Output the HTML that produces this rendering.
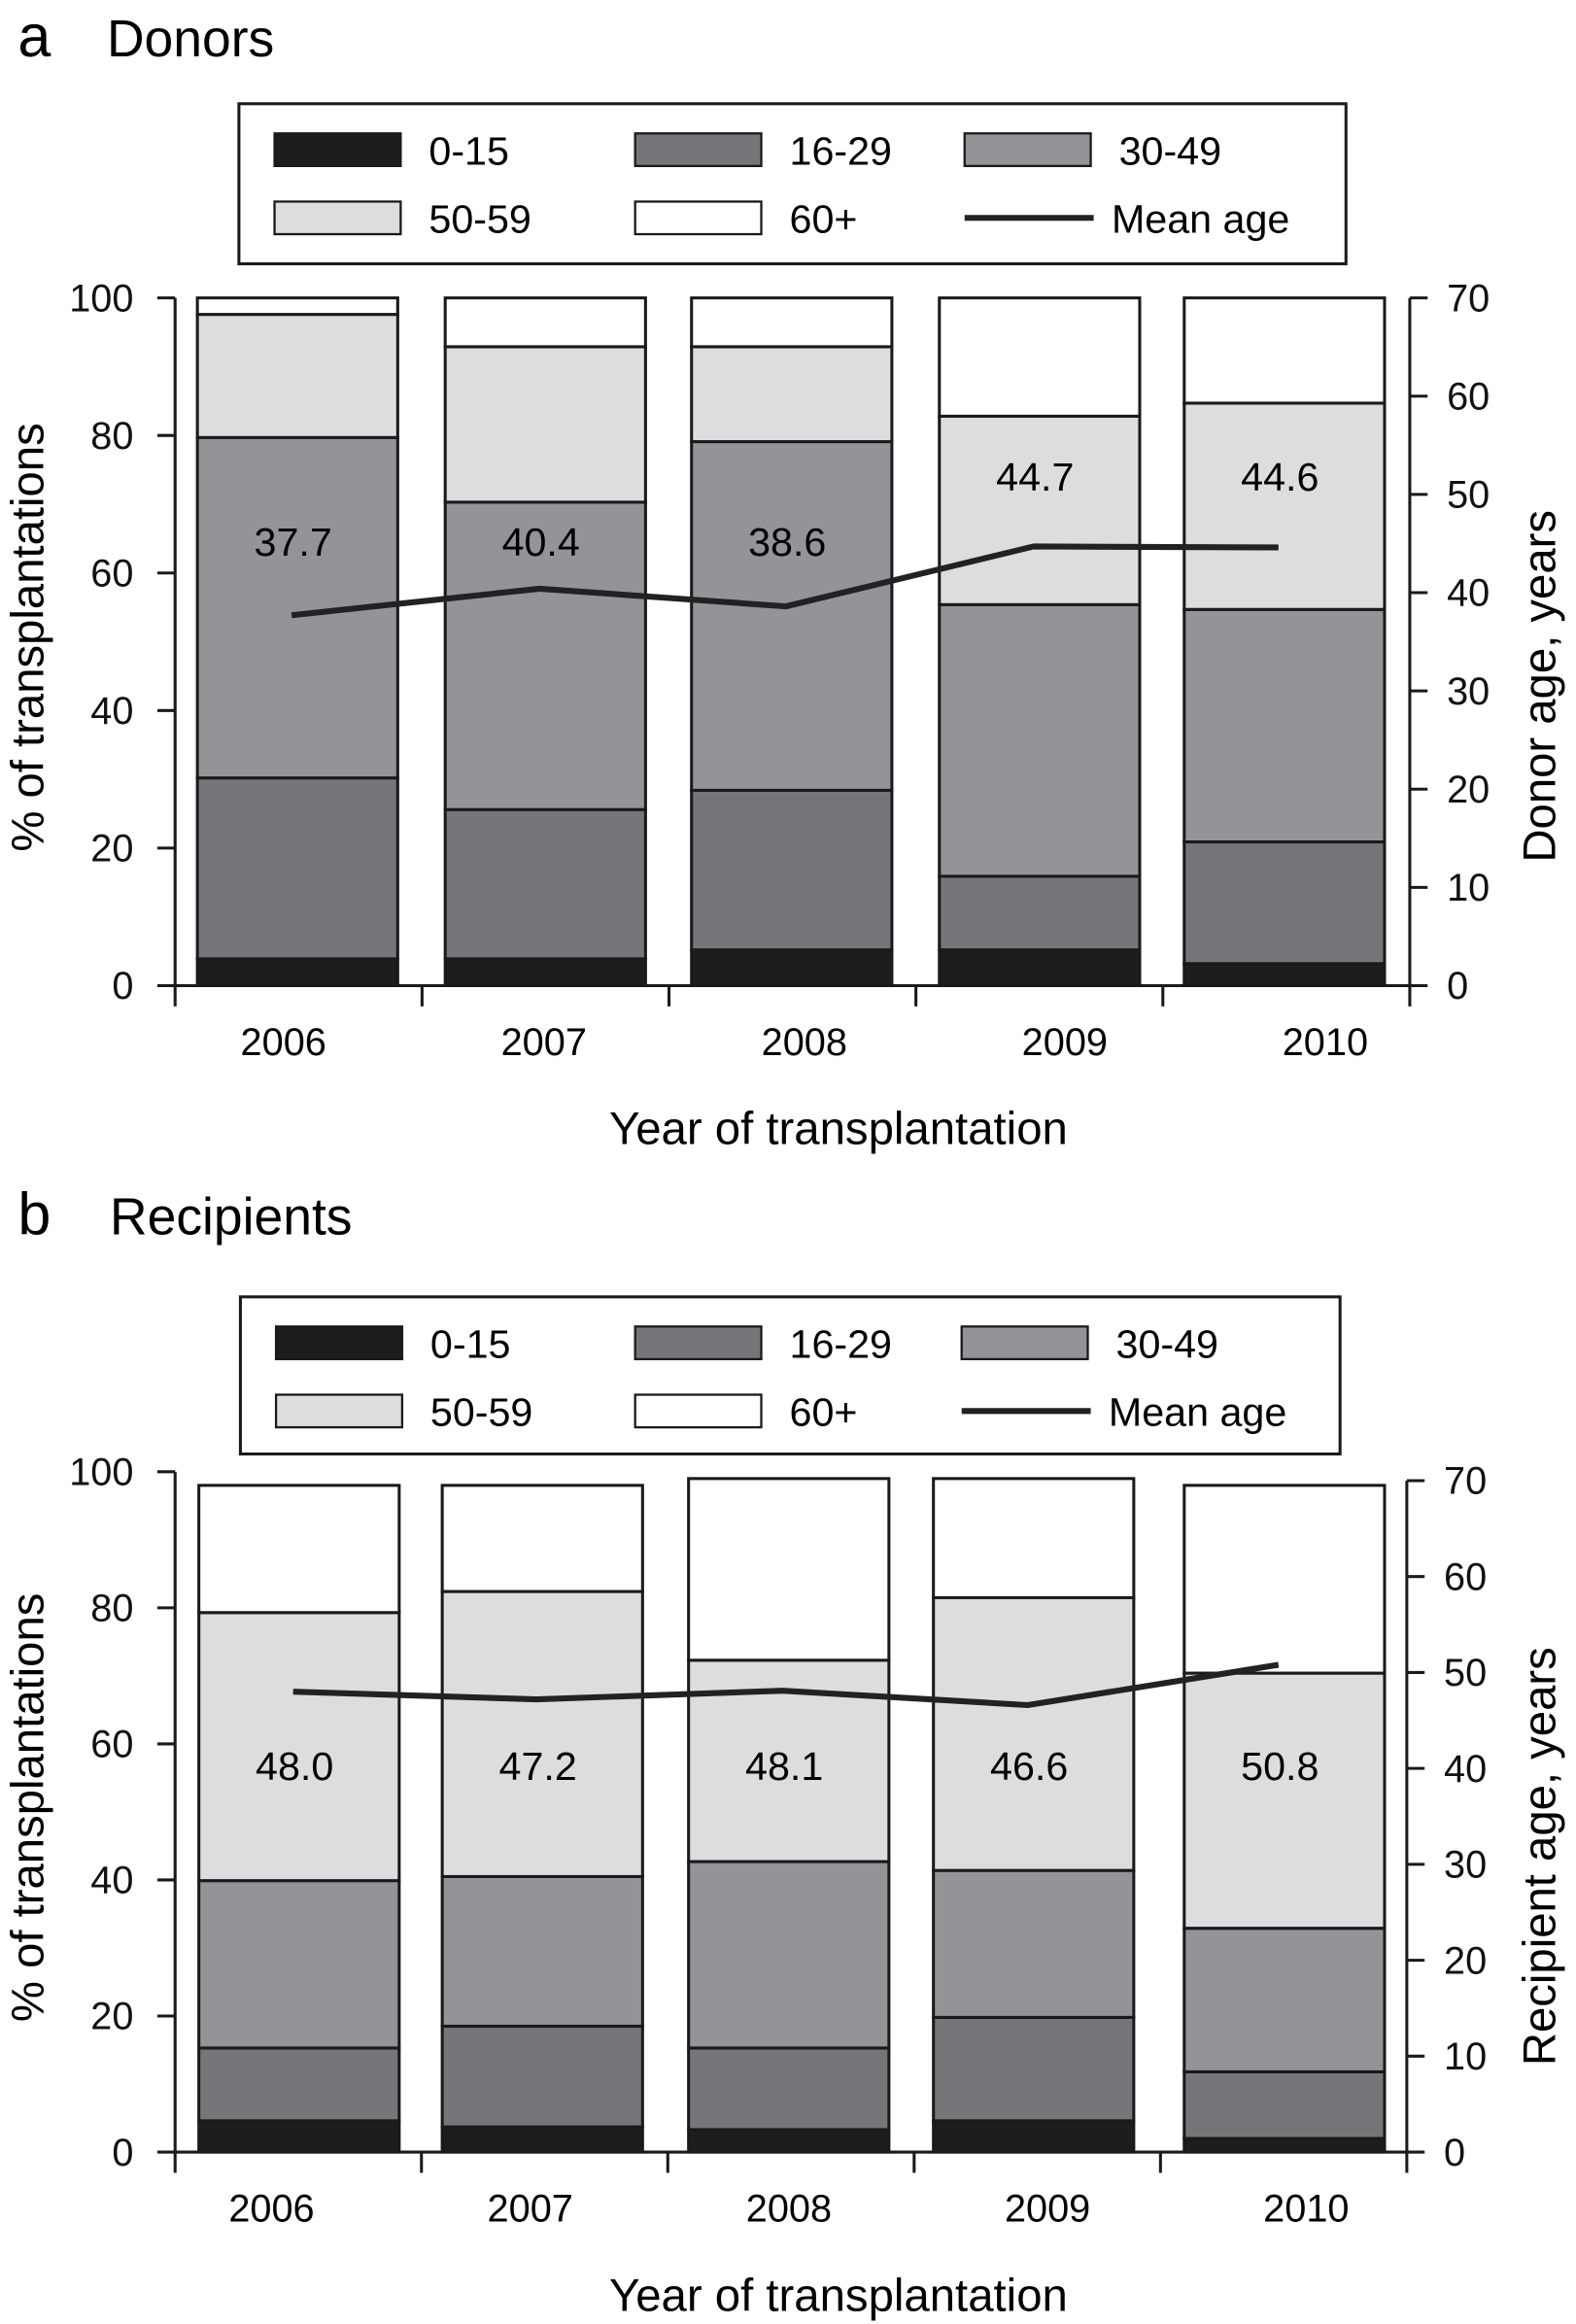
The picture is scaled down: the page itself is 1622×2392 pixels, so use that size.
<!DOCTYPE html>
<html><head><meta charset="utf-8"><style>
html,body{margin:0;padding:0;background:#fff;}
svg{display:block;font-family:"Liberation Sans",sans-serif;}
</style></head><body>
<svg id="fig" width="1622" height="2392" viewBox="0 0 1062 1568" preserveAspectRatio="none" xmlns="http://www.w3.org/2000/svg"></svg>
<script>
const years = ["2006","2007","2008","2009","2010"];
const groups = ["0-15","16-29","30-49","50-59","60+"];
const colors = ["#1f1c1d","#75767a","#939498","#dcdddf","#ffffff"];
// cumulative top boundaries (%) per age group, per year
const donorCum = [
  [3.9, 30.2, 79.7, 97.6, 100],
  [3.9, 25.6, 70.3, 92.9, 100],
  [5.2, 28.4, 79.1, 92.9, 100],
  [5.2, 15.9, 55.4, 82.8, 100],
  [3.2, 20.9, 54.7, 84.7, 100]
];
const donorMean = [37.7, 40.4, 38.6, 44.7, 44.6];
const recipCum = [
  [4.6, 15.3, 39.9, 79.3, 98],
  [3.7, 18.5, 40.5, 82.4, 98],
  [3.3, 15.3, 42.7, 72.3, 99],
  [4.6, 19.8, 41.4, 81.5, 99],
  [2.0, 11.8, 32.9, 70.4, 98]
];
const recipMean = [48.0, 47.2, 48.1, 46.6, 50.8];
const leftTicks = [0,20,40,60,80,100];
const rightTicks = [0,10,20,30,40,50,60,70];

const NS = "http://www.w3.org/2000/svg";
const svg = document.getElementById("fig");
function mk(tag, attrs, parent, text){
  const e = document.createElementNS(NS, tag);
  for (const k in attrs) e.setAttribute(k, attrs[k]);
  if (text !== undefined) e.textContent = text;
  (parent||svg).appendChild(e);
  return e;
}

function chart(cfg){
  const g = mk("g", {});
  
  
  const yL = v => cfg.y0 - (v/100)*(cfg.y0 - cfg.y100);
  const yR = v => cfg.yr0 - (v/70)*(cfg.yr0 - cfg.yr70);
  const bx = i => cfg.barX[i];
  const bw = cfg.barW;
  const cx = i => cfg.barX[i] + bw/2;

  const t1 = mk("text", {x:12, y:cfg.titleY, "font-size":40}, g, cfg.letter);
  
  
  const t2 = mk("text", {x:cfg.titleX, y:cfg.titleY, "font-size":35}, g, cfg.title);
  
  

  const L = cfg.leg;
  const lg = mk("g", {}, g);
  
  
  mk("rect", {x:L.x, y:L.y, width:L.w, height:L.h, fill:"#fff", stroke:"#1a1a1a", "stroke-width":2}, lg);
  const cols = [L.x+24, L.x+24+L.dx1, L.x+24+L.dx2];
  const rows = [L.y+20, L.y+66];
  for (let k=0;k<6;k++){
    const c = cols[k%3], r = rows[Math.floor(k/3)];
    const ent = mk("g", {}, lg);
    
    
    if (k<5){
      mk("rect", {x:c, y:r, width:85, height:22, fill:colors[k], stroke:"#1a1a1a", "stroke-width":1.5}, ent);
      mk("text", {x:c+104, y:r+21, "font-size":27}, ent, groups[k]);
    } else {
      mk("line", {x1:c, x2:c+87, y1:r+11, y2:r+11, stroke:"#222", "stroke-width":4}, ent);
      mk("text", {x:c+99, y:r+21, "font-size":27}, ent, "Mean age");
    }
  }

  for (let i=0;i<years.length;i++){
    const bg = mk("g", {}, g);
    
    
    let prev = 0;
    for (let k=0;k<5;k++){
      const top = cfg.cum[i][k];
      const seg = mk("rect", {x:bx(i), y:yL(top), width:bw, height:Math.max(0,yL(prev)-yL(top)), fill:colors[k], stroke:"#1a1a1a", "stroke-width":2}, bg);
      
      
      prev = top;
    }
  }

  const pts = cfg.mean.map((v,i)=>(cx(i)-4)+","+yR(v)).join(" ");
  const pl = mk("polyline", {points:pts, fill:"none", stroke:"#222", "stroke-width":4, "stroke-linejoin":"round"}, g);
  
  
  for (let i=0;i<years.length;i++){
    const lab = mk("text", {x:cx(i)-3, y:cfg.labY[i], "font-size":27, "text-anchor":"middle"}, g, cfg.mean[i].toFixed(1));
    
    
  }

  const ax = mk("g", {stroke:"#1a1a1a", "stroke-width":2}, g);
  
  
  mk("line", {x1:cfg.axL, x2:cfg.axL, y1:cfg.y100, y2:cfg.y0}, ax);
  mk("line", {x1:cfg.axR, x2:cfg.axR, y1:cfg.yr70, y2:cfg.y0}, ax);
  mk("line", {x1:cfg.axL, x2:cfg.axR, y1:cfg.y0, y2:cfg.y0}, ax);
  for (const v of leftTicks){
    mk("line", {x1:cfg.axL-12, x2:cfg.axL, y1:yL(v), y2:yL(v)}, ax);
    const t = mk("text", {x:cfg.axL-28, y:yL(v)+9, "font-size":26, "text-anchor":"end", stroke:"none", fill:"#111"}, g, v);
    
    
  }
  for (const v of rightTicks){
    mk("line", {x1:cfg.axR, x2:cfg.axR+12, y1:yR(v), y2:yR(v)}, ax);
    const t = mk("text", {x:cfg.axR+25, y:yR(v)+9, "font-size":26, stroke:"none", fill:"#111"}, g, v);
    
    
  }
  for (let j=0;j<=years.length;j++){
    const x = cfg.axL + j*(cfg.axR-cfg.axL)/years.length;
    mk("line", {x1:x, x2:x, y1:cfg.y0, y2:cfg.y0+14}, ax);
  }
  for (let i=0;i<years.length;i++){
    const x = cfg.labX0 + i*cfg.labDx;
    const t = mk("text", {x:x, y:cfg.y0+47, "font-size":26, "text-anchor":"middle"}, g, years[i]);
    
    
  }
  const xt = mk("text", {x:565, y:cfg.y0+107, "font-size":31, "text-anchor":"middle"}, g, "Year of transplantation");
  
  
  const mid = (cfg.y0+cfg.y100)/2;
  const yt = mk("text", {x:0, y:0, "font-size":31, "text-anchor":"middle", transform:"translate(29,"+(mid-3)+") rotate(-90)"}, g, "% of transplantations");
  
  
  const y2 = mk("text", {x:0, y:0, "font-size":31, "text-anchor":"middle", transform:"translate(1048,"+(mid+30)+") rotate(-90)"}, g, cfg.rightTitle);
  
  
}

chart({name:"donors-chart", letter:"a", title:"Donors", titleX:72, titleY:38, rightTitle:"Donor age, years",
  leg:{x:161,y:70,w:746,h:108,dx1:243,dx2:465},
  cum:donorCum, mean:donorMean, labY:[375,375,375,331,331],
  y0:665, y100:201, yr0:665, yr70:201, axL:118, axR:950,
  barX:[133,300,466,633,798], barW:135, labX0:191, labDx:175.5});
chart({name:"recipients-chart", letter:"b", title:"Recipients", titleX:74, titleY:833, rightTitle:"Recipient age, years",
  leg:{x:162,y:875,w:741,h:106,dx1:242,dx2:462},
  cum:recipCum, mean:recipMean, labY:[1201,1201,1201,1201,1201],
  y0:1452, y100:993, yr0:1452, yr70:999, axL:118, axR:948,
  barX:[134,298,464,629,798], barW:135, labX0:183, labDx:174.3});
</script>
</body></html>
